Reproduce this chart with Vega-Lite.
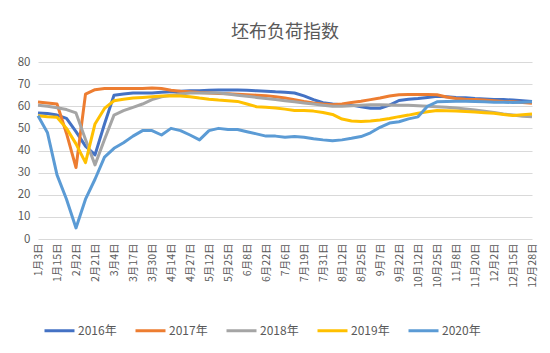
{
  "$schema": "https://vega.github.io/schema/vega-lite/v6.json",
  "width": 494,
  "height": 177,
  "autosize": {"type": "none"},
  "padding": {"left": 38, "top": 62, "right": 18, "bottom": 114},
  "background": "white",
  "config": {
    "view": {"stroke": null},
    "font": "Noto Sans CJK SC",
    "axis": {"labelColor": "#595959", "labelFont": "Noto Sans CJK SC"},
    "legend": {"labelColor": "#595959", "labelFont": "Noto Sans CJK SC"}
  },
  "title": {
    "text": "坯布负荷指数",
    "fontSize": 18,
    "fontWeight": "normal",
    "color": "#595959",
    "font": "Noto Sans CJK SC",
    "anchor": "middle",
    "offset": 14
  },
  "data": {
    "values": [
      {"date": "1月3日", "2016年": 57, "2017年": 61.9, "2018年": 60.5, "2019年": 55.7, "2020年": 55.7},
      {"date": "1月9日", "2016年": 56.7, "2017年": 61.5, "2018年": 60, "2019年": 55.3, "2020年": 48},
      {"date": "1月15日", "2016年": 56, "2017年": 61, "2018年": 59.3, "2019年": 55, "2020年": 29},
      {"date": "1月24日", "2016年": 54.5, "2017年": 47.7, "2018年": 58.5, "2019年": 50, "2020年": 18},
      {"date": "2月2日", "2016年": 48.5, "2017年": 32.3, "2018年": 57, "2019年": 43, "2020年": 5},
      {"date": "2月14日", "2016年": 42, "2017年": 65.5, "2018年": 45, "2019年": 34.5, "2020年": 18},
      {"date": "2月21日", "2016年": 38, "2017年": 67.5, "2018年": 33.5, "2019年": 52, "2020年": 27},
      {"date": "2月27日", "2016年": 52, "2017年": 68, "2018年": 45, "2019年": 59, "2020年": 37},
      {"date": "3月4日", "2016年": 65, "2017年": 68, "2018年": 56, "2019年": 62.5, "2020年": 41},
      {"date": "3月10日", "2016年": 65.5, "2017年": 68, "2018年": 58, "2019年": 63.2, "2020年": 43.5},
      {"date": "3月17日", "2016年": 66, "2017年": 68, "2018年": 59.5, "2019年": 63.7, "2020年": 46.5},
      {"date": "3月24日", "2016年": 66, "2017年": 68, "2018年": 61, "2019年": 64, "2020年": 49},
      {"date": "3月30日", "2016年": 66, "2017年": 68.2, "2018年": 63, "2019年": 64.3, "2020年": 49},
      {"date": "4月7日", "2016年": 66.3, "2017年": 68, "2018年": 64.3, "2019年": 64.6, "2020年": 47},
      {"date": "4月14日", "2016年": 66.5, "2017年": 67.2, "2018年": 65, "2019年": 64.7, "2020年": 50},
      {"date": "4月21日", "2016年": 66.8, "2017年": 66.8, "2018年": 65.5, "2019年": 64.6, "2020年": 49},
      {"date": "4月27日", "2016年": 67, "2017年": 66.5, "2018年": 66, "2019年": 64.3, "2020年": 47},
      {"date": "5月5日", "2016年": 67, "2017年": 66.2, "2018年": 66, "2019年": 63.7, "2020年": 44.8},
      {"date": "5月12日", "2016年": 67.2, "2017年": 66, "2018年": 66, "2019年": 63.2, "2020年": 49},
      {"date": "5月18日", "2016年": 67.3, "2017年": 65.8, "2018年": 66, "2019年": 62.8, "2020年": 50},
      {"date": "5月25日", "2016年": 67.3, "2017年": 65.6, "2018年": 65.5, "2019年": 62.5, "2020年": 49.5},
      {"date": "6月1日", "2016年": 67.3, "2017年": 65.4, "2018年": 65, "2019年": 62.2, "2020年": 49.5},
      {"date": "6月8日", "2016年": 67.2, "2017年": 65.2, "2018年": 64.5, "2019年": 61, "2020年": 48.5},
      {"date": "6月15日", "2016年": 67, "2017年": 65, "2018年": 64, "2019年": 59.8, "2020年": 47.5},
      {"date": "6月22日", "2016年": 66.8, "2017年": 64.8, "2018年": 63.5, "2019年": 59.5, "2020年": 46.5},
      {"date": "6月29日", "2016年": 66.5, "2017年": 64.3, "2018年": 63, "2019年": 59.2, "2020年": 46.5},
      {"date": "7月6日", "2016年": 66.3, "2017年": 63.7, "2018年": 62.5, "2019年": 58.7, "2020年": 46},
      {"date": "7月12日", "2016年": 66, "2017年": 63, "2018年": 62, "2019年": 58.1, "2020年": 46.3},
      {"date": "7月19日", "2016年": 64.7, "2017年": 62.2, "2018年": 61.5, "2019年": 58.1, "2020年": 46},
      {"date": "7月25日", "2016年": 63, "2017年": 61.5, "2018年": 61, "2019年": 57.8, "2020年": 45.3},
      {"date": "7月31日", "2016年": 61.6, "2017年": 61, "2018年": 60.5, "2019年": 57.2, "2020年": 44.8},
      {"date": "8月6日", "2016年": 61, "2017年": 60.7, "2018年": 60, "2019年": 56.3, "2020年": 44.4},
      {"date": "8月12日", "2016年": 60.7, "2017年": 61, "2018年": 60, "2019年": 54.2, "2020年": 44.8},
      {"date": "8月18日", "2016年": 60.5, "2017年": 61.7, "2018年": 60.2, "2019年": 53.3, "2020年": 45.5},
      {"date": "8月25日", "2016年": 59.8, "2017年": 62.3, "2018年": 60.5, "2019年": 53.1, "2020年": 46.3},
      {"date": "9月1日", "2016年": 59.1, "2017年": 63, "2018年": 60.7, "2019年": 53.3, "2020年": 48},
      {"date": "9月7日", "2016年": 59.1, "2017年": 63.7, "2018年": 60.7, "2019年": 53.8, "2020年": 50.5},
      {"date": "9月14日", "2016年": 60.5, "2017年": 64.6, "2018年": 60.6, "2019年": 54.5, "2020年": 52.4},
      {"date": "9月22日", "2016年": 62.6, "2017年": 65.2, "2018年": 60.5, "2019年": 55.3, "2020年": 53},
      {"date": "9月29日", "2016年": 63.2, "2017年": 65.3, "2018年": 60.4, "2019年": 56, "2020年": 54.3},
      {"date": "10月12日", "2016年": 63.5, "2017年": 65.3, "2018年": 60.2, "2019年": 56.8, "2020年": 55.2},
      {"date": "10月18日", "2016年": 64, "2017年": 65.3, "2018年": 60, "2019年": 57.5, "2020年": 60},
      {"date": "10月25日", "2016年": 64.5, "2017年": 65.2, "2018年": 59.8, "2019年": 58.1, "2020年": 62},
      {"date": "11月1日", "2016年": 64.3, "2017年": 64.2, "2018年": 59.5, "2019年": 58, "2020年": 62.2},
      {"date": "11月8日", "2016年": 64, "2017年": 63.5, "2018年": 59.2, "2019年": 57.8, "2020年": 62.3},
      {"date": "11月14日", "2016年": 63.8, "2017年": 63.2, "2018年": 58.8, "2019年": 57.6, "2020年": 62.3},
      {"date": "11月20日", "2016年": 63.5, "2017年": 63, "2018年": 58.3, "2019年": 57.4, "2020年": 62.2},
      {"date": "11月26日", "2016年": 63.3, "2017年": 62.8, "2018年": 57.8, "2019年": 57.1, "2020年": 62},
      {"date": "12月2日", "2016年": 63.1, "2017年": 62.5, "2018年": 57.2, "2019年": 56.8, "2020年": 61.8},
      {"date": "12月8日", "2016年": 63, "2017年": 62.2, "2018年": 56.5, "2019年": 56.3, "2020年": 61.8},
      {"date": "12月15日", "2016年": 62.8, "2017年": 62, "2018年": 56, "2019年": 55.8, "2020年": 61.7},
      {"date": "12月21日", "2016年": 62.5, "2017年": 61.7, "2018年": 55.5, "2019年": 56.2, "2020年": 61.8},
      {"date": "12月28日", "2016年": 62.2, "2017年": 61.4, "2018年": 55.3, "2019年": 56.5, "2020年": 62}
    ]
  },
  "transform": [
    {"fold": ["2016年", "2017年", "2018年", "2019年", "2020年"], "as": ["year", "value"]}
  ],
  "mark": {"type": "line", "strokeWidth": 3, "strokeJoin": "round"},
  "encoding": {
    "x": {
      "field": "date",
      "type": "ordinal",
      "sort": null,
      "scale": {"type": "point", "padding": 0},
      "axis": {
        "title": null,
        "values": ["1月3日", "1月15日", "2月2日", "2月21日", "3月4日", "3月17日", "3月30日", "4月14日", "4月27日", "5月12日", "5月25日", "6月8日", "6月22日", "7月6日", "7月19日", "7月31日", "8月12日", "8月25日", "9月7日", "9月22日", "10月12日", "10月25日", "11月8日", "11月20日", "12月2日", "12月15日", "12月28日"],
        "labelAngle": -90,
        "labelFontSize": 10.5,
        "labelPadding": 4,
        "ticks": false,
        "domain": false,
        "grid": false
      }
    },
    "y": {
      "field": "value",
      "type": "quantitative",
      "scale": {"domain": [0, 80], "nice": false},
      "axis": {
        "title": null,
        "values": [0, 10, 20, 30, 40, 50, 60, 70, 80],
        "labelFontSize": 11.5,
        "labelPadding": 8,
        "ticks": false,
        "domain": false,
        "gridColor": "#D9D9D9",
        "gridWidth": 1
      }
    },
    "color": {
      "field": "year",
      "type": "nominal",
      "scale": {
        "domain": ["2016年", "2017年", "2018年", "2019年", "2020年"],
        "range": ["#4472C4", "#ED7D31", "#A5A5A5", "#FFC000", "#5B9BD5"]
      },
      "legend": {
        "title": null,
        "orient": "none",
        "direction": "horizontal",
        "legendX": 5,
        "legendY": 252,
        "symbolType": "stroke",
        "symbolSize": 900,
        "symbolStrokeWidth": 3,
        "labelFontSize": 12,
        "labelOffset": 2,
        "columnPadding": 12
      }
    }
  }
}
